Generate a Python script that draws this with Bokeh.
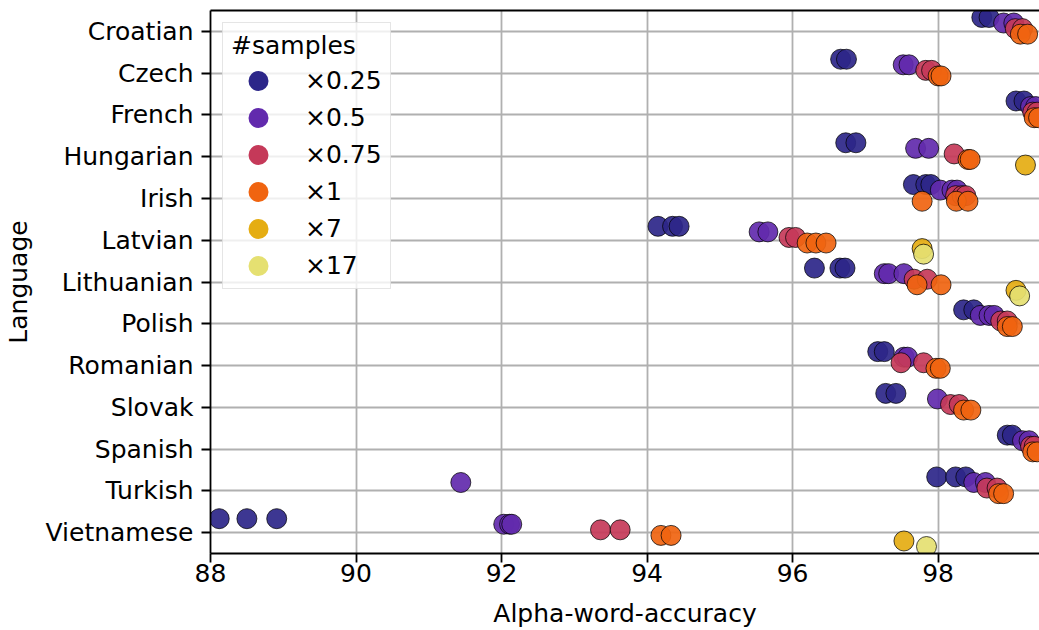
from bokeh.plotting import figure
from bokeh.models import (ColumnDataSource, FactorRange, Range1d, Legend, LegendItem,
                          LinearAxis, FixedTicker)
from bokeh.transform import dodge
from bokeh.embed import file_html
from bokeh.resources import INLINE

languages = ["Croatian", "Czech", "French", "Hungarian", "Irish", "Latvian", "Lithuanian",
             "Polish", "Romanian", "Slovak", "Spanish", "Turkish", "Vietnamese"]
sample_labels = ["×0.25", "×0.5", "×0.75", "×1", "×7", "×17"]
colors = ["#2c2689", "#622aad", "#c53959", "#f06410", "#e5ad12", "#e5e071"]

acc_x025 = {
    "Croatian": [98.60, 98.70], "Czech": [96.66, 96.74], "French": [99.07, 99.18],
    "Hungarian": [96.73, 96.87], "Irish": [97.66, 97.83, 97.90], "Latvian": [94.15, 94.35, 94.44],
    "Lithuanian": [96.30, 96.65, 96.72], "Polish": [98.35, 98.49], "Romanian": [97.17, 97.26],
    "Slovak": [97.28, 97.42], "Spanish": [98.95, 99.02], "Turkish": [97.98, 98.24, 98.38],
    "Vietnamese": [88.12, 88.50, 88.91],
}
acc_x05 = {
    "Croatian": [98.90, 99.04], "Czech": [97.52, 97.60], "French": [99.27, 99.34],
    "Hungarian": [97.69, 97.87], "Irish": [98.03, 98.19, 98.26], "Latvian": [95.54, 95.66],
    "Lithuanian": [97.26, 97.32, 97.53], "Polish": [98.58, 98.70, 98.77], "Romanian": [97.53, 97.58],
    "Slovak": [97.99], "Spanish": [99.16, 99.25], "Turkish": [91.44, 98.49, 98.65],
    "Vietnamese": [92.03, 92.11, 92.14],
}
acc_x075 = {
    "Croatian": [99.06, 99.16], "Czech": [97.83, 97.91], "French": [99.30, 99.36],
    "Hungarian": [98.22], "Irish": [98.24, 98.33, 98.38], "Latvian": [95.95, 96.04],
    "Lithuanian": [97.67, 97.85], "Polish": [98.86, 98.95], "Romanian": [97.49, 97.80],
    "Slovak": [98.17, 98.29], "Spanish": [99.27, 99.32], "Turkish": [98.67, 98.81],
    "Vietnamese": [93.36, 93.63],
}
acc_x1 = {
    "Croatian": [99.13, 99.23], "Czech": [98.00, 98.04], "French": [99.32, 99.38],
    "Hungarian": [98.41, 98.44], "Irish": [97.78, 98.25, 98.41], "Latvian": [96.20, 96.32, 96.46],
    "Lithuanian": [97.71, 98.04], "Polish": [98.95, 99.02], "Romanian": [97.97, 98.03],
    "Slovak": [98.35, 98.45], "Spanish": [99.30, 99.36], "Turkish": [98.83, 98.90],
    "Vietnamese": [94.19, 94.33],
}
acc_x7 = {"Hungarian": [99.20], "Latvian": [97.78], "Lithuanian": [99.07], "Vietnamese": [97.53]}
acc_x17 = {"Latvian": [97.80], "Lithuanian": [99.12], "Vietnamese": [97.84]}

series = [acc_x025, acc_x05, acc_x075, acc_x1, acc_x7, acc_x17]

FONT = "DejaVu Sans"
FS = "25px"

p = figure(width=1039, height=630, output_backend="svg", toolbar_location=None,
           y_range=FactorRange(factors=languages[::-1]),
           x_range=Range1d(88, 99.393),
           min_border_left=209, min_border_right=0, min_border_top=10, min_border_bottom=76)
p.outline_line_color = None
p.background_fill_color = "white"

for g in (p.xgrid, p.ygrid):
    g.grid_line_color = "#b0b0b0"
    g.grid_line_width = 1.8

p.xaxis.ticker = FixedTicker(ticks=[88, 90, 92, 94, 96, 98])
p.xaxis.axis_label = "Alpha-word-accuracy"
p.yaxis.axis_label = "Language"
for ax in (p.xaxis[0], p.yaxis[0]):
    ax.axis_line_color = "black"
    ax.axis_line_width = 1.8
    ax.major_tick_line_color = "black"
    ax.major_tick_line_width = 1.8
    ax.major_tick_out = 9
    ax.major_tick_in = 0
    ax.minor_tick_line_color = None
    ax.major_label_text_font = FONT
    ax.major_label_text_font_size = FS
    ax.major_label_text_color = "black"
    ax.axis_label_text_font = FONT
    ax.axis_label_text_font_size = FS
    ax.axis_label_text_font_style = "normal"
    ax.axis_label_text_color = "black"
p.xaxis.major_label_standoff = 1
p.xaxis.axis_label_standoff = 14
p.yaxis.major_label_standoff = 8
p.yaxis.axis_label_standoff = 10

top = LinearAxis(axis_line_color="black", axis_line_width=1.8, major_tick_line_color=None,
                 minor_tick_line_color=None, major_label_text_font_size="0px",
                 major_label_standoff=0, ticker=FixedTicker(ticks=[]))
p.add_layout(top, "above")

offsets = [0.3333, 0.2, 0.0667, -0.0667, -0.2, -0.3333]

legend_items = []
for lab, col, off, data in zip(sample_labels, colors, offsets, series):
    langs, accs = [], []
    for lang in languages:
        for v in data.get(lang, []):
            langs.append(lang)
            accs.append(v)
    src = ColumnDataSource(dict(lang=langs, acc=accs))
    p.scatter(x="acc", y=dodge("lang", off, range=p.y_range), source=src, size=20,
              fill_color=col, fill_alpha=0.92, line_color="black", line_width=0.8, line_alpha=0.9)
    # legend proxy (not drawn in the plot area: x is NaN)
    leg_src = ColumnDataSource(dict(x=[float("nan")], y=[languages[0]]))
    leg_r = p.ellipse(x="x", y="y", width=25, height=25, width_units="screen",
                      height_units="screen", source=leg_src, fill_color=col, line_color=None)
    legend_items.append(LegendItem(label=lab, renderers=[leg_r]))

legend = Legend(items=legend_items, location="top_left", title="#samples")
legend.title_text_font = FONT
legend.title_text_font_size = FS
legend.title_text_font_style = "normal"
legend.title_text_color = "black"
legend.title_standoff = 6
legend.label_text_font = FONT
legend.label_text_font_size = FS
legend.label_text_color = "black"
legend.glyph_width = 54
legend.glyph_height = 25
legend.label_standoff = 20
legend.spacing = 8
legend.padding = 8
legend.margin = 12
legend.border_line_color = "#cccccc"
legend.border_line_width = 1.5
legend.background_fill_alpha = 0.8
p.add_layout(legend)

open("out.html", "w").write(file_html(p, INLINE))
